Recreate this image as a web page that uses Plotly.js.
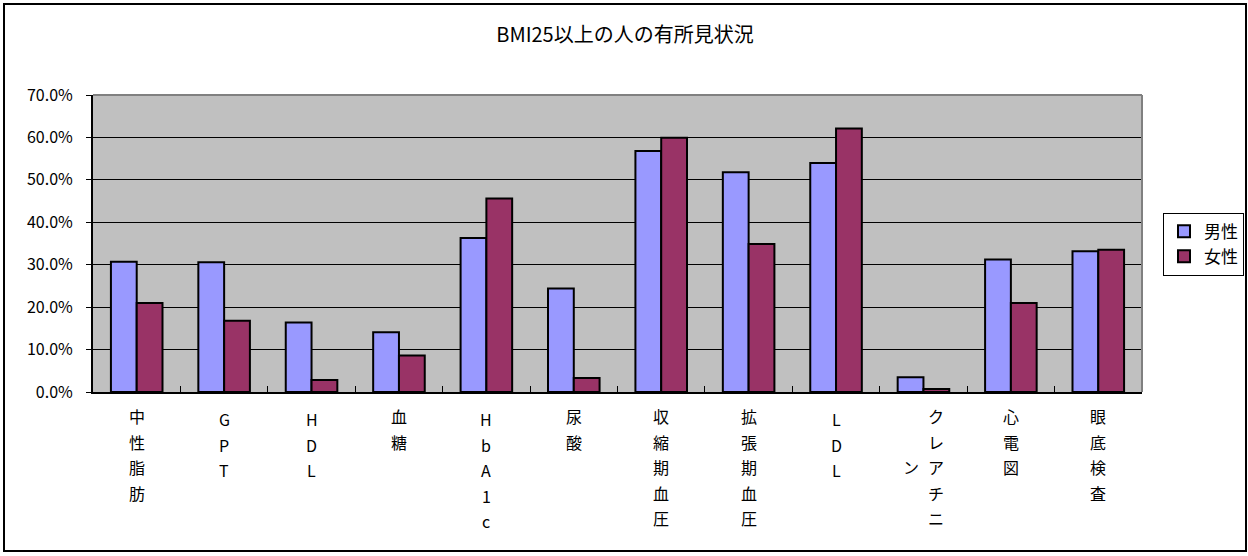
<!DOCTYPE html>
<html>
<head>
<meta charset="utf-8">
<script src="https://cdn.plot.ly/plotly-3.0.1.min.js"></script>
<style>
  html, body { margin: 0; padding: 0; background: #fff; }
  #frame { position: absolute; left: 3px; top: 3px; width: 1240px; height: 545px; border: 2px solid #000; }
  #chart { width: 1240px; height: 545px; }
</style>
</head>
<body>
<div id="frame"><div id="chart"></div></div>
<script>
const chartTitle = 'BMI25以上の人の有所見状況';
const categories = ['中性脂肪','GPT','HDL','血糖','HbA1c','尿酸','収縮期血圧','拡張期血圧','LDL','クレアチニン','心電図','眼底検査'];
const seriesNames = ['男性', '女性'];
const male   = [0.307, 0.306, 0.164, 0.141, 0.363, 0.244, 0.568, 0.518, 0.540, 0.035, 0.312, 0.332];
const female = [0.210, 0.168, 0.028, 0.086, 0.456, 0.033, 0.599, 0.349, 0.621, 0.007, 0.210, 0.335];
const yTickVals = [0, 0.1, 0.2, 0.3, 0.4, 0.5, 0.6, 0.7];

const FONT = '"Noto Sans CJK JP", "Noto Sans", sans-serif';

const traces = [
  { type: 'bar', name: seriesNames[0], x: categories, y: male,
    marker: { color: '#9999FF', line: { color: '#000', width: 2 } }, hoverinfo: 'x+y' },
  { type: 'bar', name: seriesNames[1], x: categories, y: female,
    marker: { color: '#993366', line: { color: '#000', width: 2 } }, hoverinfo: 'x+y' }
];

// vertical (stacked-character) category labels, wrapped into columns of 5, right-to-left
const annotations = [];
const maxRows = 5, rowStep = 25.5, colStep = 25;
categories.forEach(function (label, i) {
  const chars = Array.from(label);
  const nCols = Math.ceil(chars.length / maxRows);
  for (let c = 0; c < nCols; c++) {
    const colChars = chars.slice(c * maxRows, (c + 1) * maxRows);
    const rowOffset = c > 0 ? (maxRows - colChars.length) / 2 : 0;
    const xs = ((nCols - 1) / 2 - c) * colStep;
    colChars.forEach(function (ch, r) {
      const latin = /[A-Za-z0-9]/.test(ch);
      annotations.push({
        text: ch, xref: 'x', yref: 'paper', x: i, y: 0,
        xanchor: 'center', yanchor: 'middle',
        xshift: xs, yshift: -(24 + (latin ? 3 : 0) + (r + rowOffset) * rowStep),
        showarrow: false, font: { family: FONT, size: 16, color: '#000' }
      });
    });
  }
});

const layout = {
  width: 1240, height: 545,
  margin: { l: 88, r: 103, t: 90, b: 158, autoexpand: false },
  paper_bgcolor: '#fff',
  plot_bgcolor: '#C0C0C0',
  font: { family: FONT, color: '#000' },
  title: { text: chartTitle, font: { family: FONT, size: 20, color: '#000' },
           x: 0.5, xref: 'container', xanchor: 'center', y: 0.945, yref: 'container', yanchor: 'middle' },
  barmode: 'group', bargap: 0.41, bargroupgap: 0,
  showlegend: true,
  legend: { x: 1.02, y: 0.604, xanchor: 'left', yanchor: 'top', bgcolor: '#fff',
            bordercolor: '#000', borderwidth: 1, font: { family: FONT, size: 17, color: '#000' },
            itemwidth: 30, traceorder: 'normal' },
  xaxis: {
    type: 'category', showticklabels: false, showgrid: false, zeroline: false,
    showline: true, linecolor: '#000', linewidth: 2,
    ticks: 'inside', tickson: 'boundaries', ticklen: 6, tickcolor: '#000', tickwidth: 1
  },
  yaxis: {
    range: [0, 0.7], tickvals: yTickVals, tickformat: '.1%',
    showgrid: true, gridcolor: '#000', gridwidth: 1, zeroline: false,
    showline: true, linecolor: '#000', linewidth: 2,
    ticks: 'outside', ticklen: 5, tickcolor: '#000', ticklabelstandoff: 10,
    tickfont: { family: FONT, size: 16, color: '#000' }
  },
  shapes: [
    { type: 'line', xref: 'paper', yref: 'paper', x0: 0, x1: 1, y0: 1, y1: 1, line: { color: '#808080', width: 2 }, layer: 'above' },
    { type: 'line', xref: 'paper', yref: 'paper', x0: 1, x1: 1, y0: 0, y1: 1, line: { color: '#808080', width: 2 }, layer: 'above' }
  ],
  annotations: annotations
};

Plotly.newPlot('chart', traces, layout, { displayModeBar: false, staticPlot: true });
</script>
</body>
</html>
